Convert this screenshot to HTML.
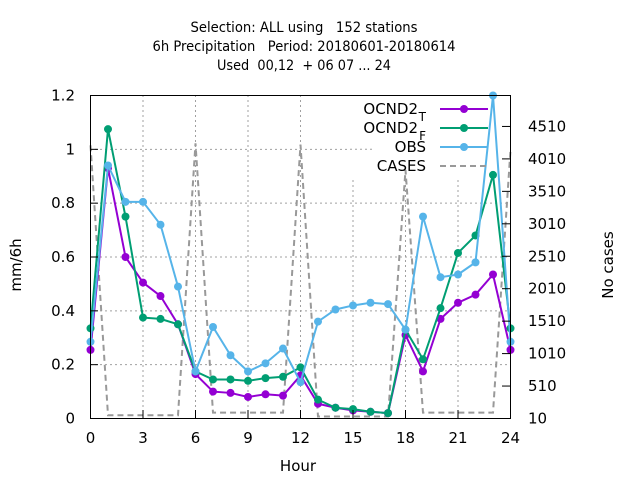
<!DOCTYPE html>
<html><head><meta charset="utf-8"><style>body{margin:0;background:#fff}svg{display:block;font-family:"DejaVu Sans","Liberation Sans",sans-serif}.pre{white-space:pre}</style></head>
<body>
<svg id="chart" width="640" height="480" xmlns="http://www.w3.org/2000/svg">
<g id="grid"></g>
<rect x="350" y="96" width="159" height="82" fill="#fff"/>
<line x1="350" x2="372" y1="149.3" y2="149.3" stroke="#a0a0a0" stroke-dasharray="2,3"/>
<g id="series"></g>
<rect x="90.5" y="95.5" width="420" height="323" fill="none" stroke="#000" stroke-width="1"/>
<g id="axes" font-size="15" fill="#000"></g>
<g font-size="14" text-anchor="middle" class="pre">
<text class="pre" x="304" y="32" textLength="227" lengthAdjust="spacingAndGlyphs">Selection: ALL using   152 stations</text>
<text class="pre" x="304" y="51" textLength="303" lengthAdjust="spacingAndGlyphs">6h Precipitation   Period: 20180601-20180614</text>
<text class="pre" x="304" y="70" textLength="174" lengthAdjust="spacingAndGlyphs">Used  00,12  + 06 07 ... 24</text>
</g>
<text x="298" y="471" font-size="15" text-anchor="middle">Hour</text>
<text transform="translate(21,265) rotate(-90)" font-size="15" text-anchor="middle">mm/6h</text>
<text transform="translate(613,265) rotate(-90)" font-size="15" text-anchor="middle">No cases</text>
<g id="legend" font-size="15" text-anchor="end"></g>
</svg>
<script>
const hours=[0,1,2,3,4,5,6,7,8,9,10,11,12,13,14,15,16,17,18,19,20,21,22,23,24];
const ocnd2T=[0.255,0.93,0.60,0.505,0.455,0.35,0.165,0.10,0.095,0.08,0.09,0.085,0.16,0.055,0.04,0.03,0.025,0.02,0.31,0.175,0.37,0.43,0.46,0.535,0.255];
const ocnd2F=[0.335,1.075,0.75,0.375,0.37,0.35,0.175,0.145,0.145,0.14,0.15,0.155,0.19,0.07,0.04,0.035,0.025,0.02,0.33,0.22,0.41,0.615,0.68,0.905,0.335];
const obs=[0.285,0.94,0.805,0.805,0.72,0.49,0.175,0.34,0.235,0.175,0.205,0.26,0.135,0.36,0.405,0.42,0.43,0.425,0.33,0.75,0.525,0.535,0.58,1.2,0.285];
const cases=[4220,60,60,60,60,60,4250,100,100,100,100,100,4230,40,40,40,40,40,3840,100,100,100,100,100,4150];
const xTicks=[0,3,6,9,12,15,18,21,24];
const yTicks=[0,0.2,0.4,0.6,0.8,1,1.2];
const yTickLabels=["0","0.2","0.4","0.6","0.8","1","1.2"];
const y2Ticks=[10,510,1010,1510,2010,2510,3010,3510,4010,4510];

const NS="http://www.w3.org/2000/svg";
const X=h=>90.5+h*420/24;
const Y=v=>418.5-v*323/1.2;
const Y2=c=>418.5-(c-10)*0.0649;
function mk(tag,attrs,parent){const e=document.createElementNS(NS,tag);for(const k in attrs)e.setAttribute(k,attrs[k]);parent.appendChild(e);return e;}
const grid=document.getElementById('grid'),axes=document.getElementById('axes'),series=document.getElementById('series'),legend=document.getElementById('legend');
yTicks.forEach((v,i)=>{
  if(i>0&&i<yTicks.length-1){const g=mk('line',{x1:90,x2:510,y1:Y(v),y2:Y(v),stroke:'#a0a0a0','stroke-dasharray':'2,3'},grid);
  
  }
  const t=mk('line',{x1:90,x2:98,y1:Y(v),y2:Y(v),stroke:'#000'},axes);
  
  
  const l=mk('text',{x:75,y:Y(v)+5,'text-anchor':'end'},axes);l.textContent=yTickLabels[i];
  
  
});
xTicks.forEach((h,i)=>{
  if(i>0&&i<xTicks.length-1){const g=mk('line',{x1:X(h),x2:X(h),y1:95,y2:418,stroke:'#a0a0a0','stroke-dasharray':'2,3'},grid);
  
  }
  const t=mk('line',{x1:X(h),x2:X(h),y1:418,y2:410,stroke:'#000'},axes);
  
  
  const l=mk('text',{x:X(h),y:443,'text-anchor':'middle'},axes);l.textContent=String(h);
  
  
});
y2Ticks.forEach(c=>{
  const t=mk('line',{x1:502,x2:510,y1:Y2(c),y2:Y2(c),stroke:'#000'},axes);
  
  
  const l=mk('text',{x:528,y:Y2(c)+5,'text-anchor':'start'},axes);l.textContent=String(c);
  
  
});
const cp=mk('polyline',{points:hours.map((h,i)=>X(h)+','+Y2(cases[i])).join(' '),fill:'none',stroke:'#999','stroke-width':2,'stroke-dasharray':'6,4'},series);


function drawSeries(vals,color,name){
  const p=mk('polyline',{points:hours.map((h,i)=>X(h)+','+Y(vals[i])).join(' '),fill:'none',stroke:color,'stroke-width':2},series);
  
  
  hours.forEach((h,i)=>{const c=mk('circle',{cx:X(h),cy:Y(vals[i]),r:4,fill:color},series);
    
    });
}
drawSeries(ocnd2T,'#9400d3','ocnd2-t');
drawSeries(ocnd2F,'#009e73','ocnd2-f');
drawSeries(obs,'#56b4e9','obs');
const leg=[['OCND2','T','#9400d3',109,'legend-ocnd2-t'],['OCND2','F','#009e73',128,'legend-ocnd2-f'],['OBS','','#56b4e9',147,'legend-obs'],['CASES','','#999',166,'legend-cases']];
leg.forEach(([t,sub,col,y,nm])=>{
  const tx=mk('text',{x:sub?418:426,y:y+5},legend);
  
  
  tx.textContent=t;
  if(sub){const s=mk('text',{x:426,y:y+12,'font-size':12},legend);s.textContent=sub;
    
    }
  const ln=mk('line',{x1:440,x2:488,y1:y,y2:y,stroke:col,'stroke-width':2},legend);
  if(nm==='legend-cases')ln.setAttribute('stroke-dasharray','6,4');
  
  
  if(nm!=='legend-cases'){const c=mk('circle',{cx:464,cy:y,r:4,fill:col},legend);
    
    }
});
</script>
</body></html>
